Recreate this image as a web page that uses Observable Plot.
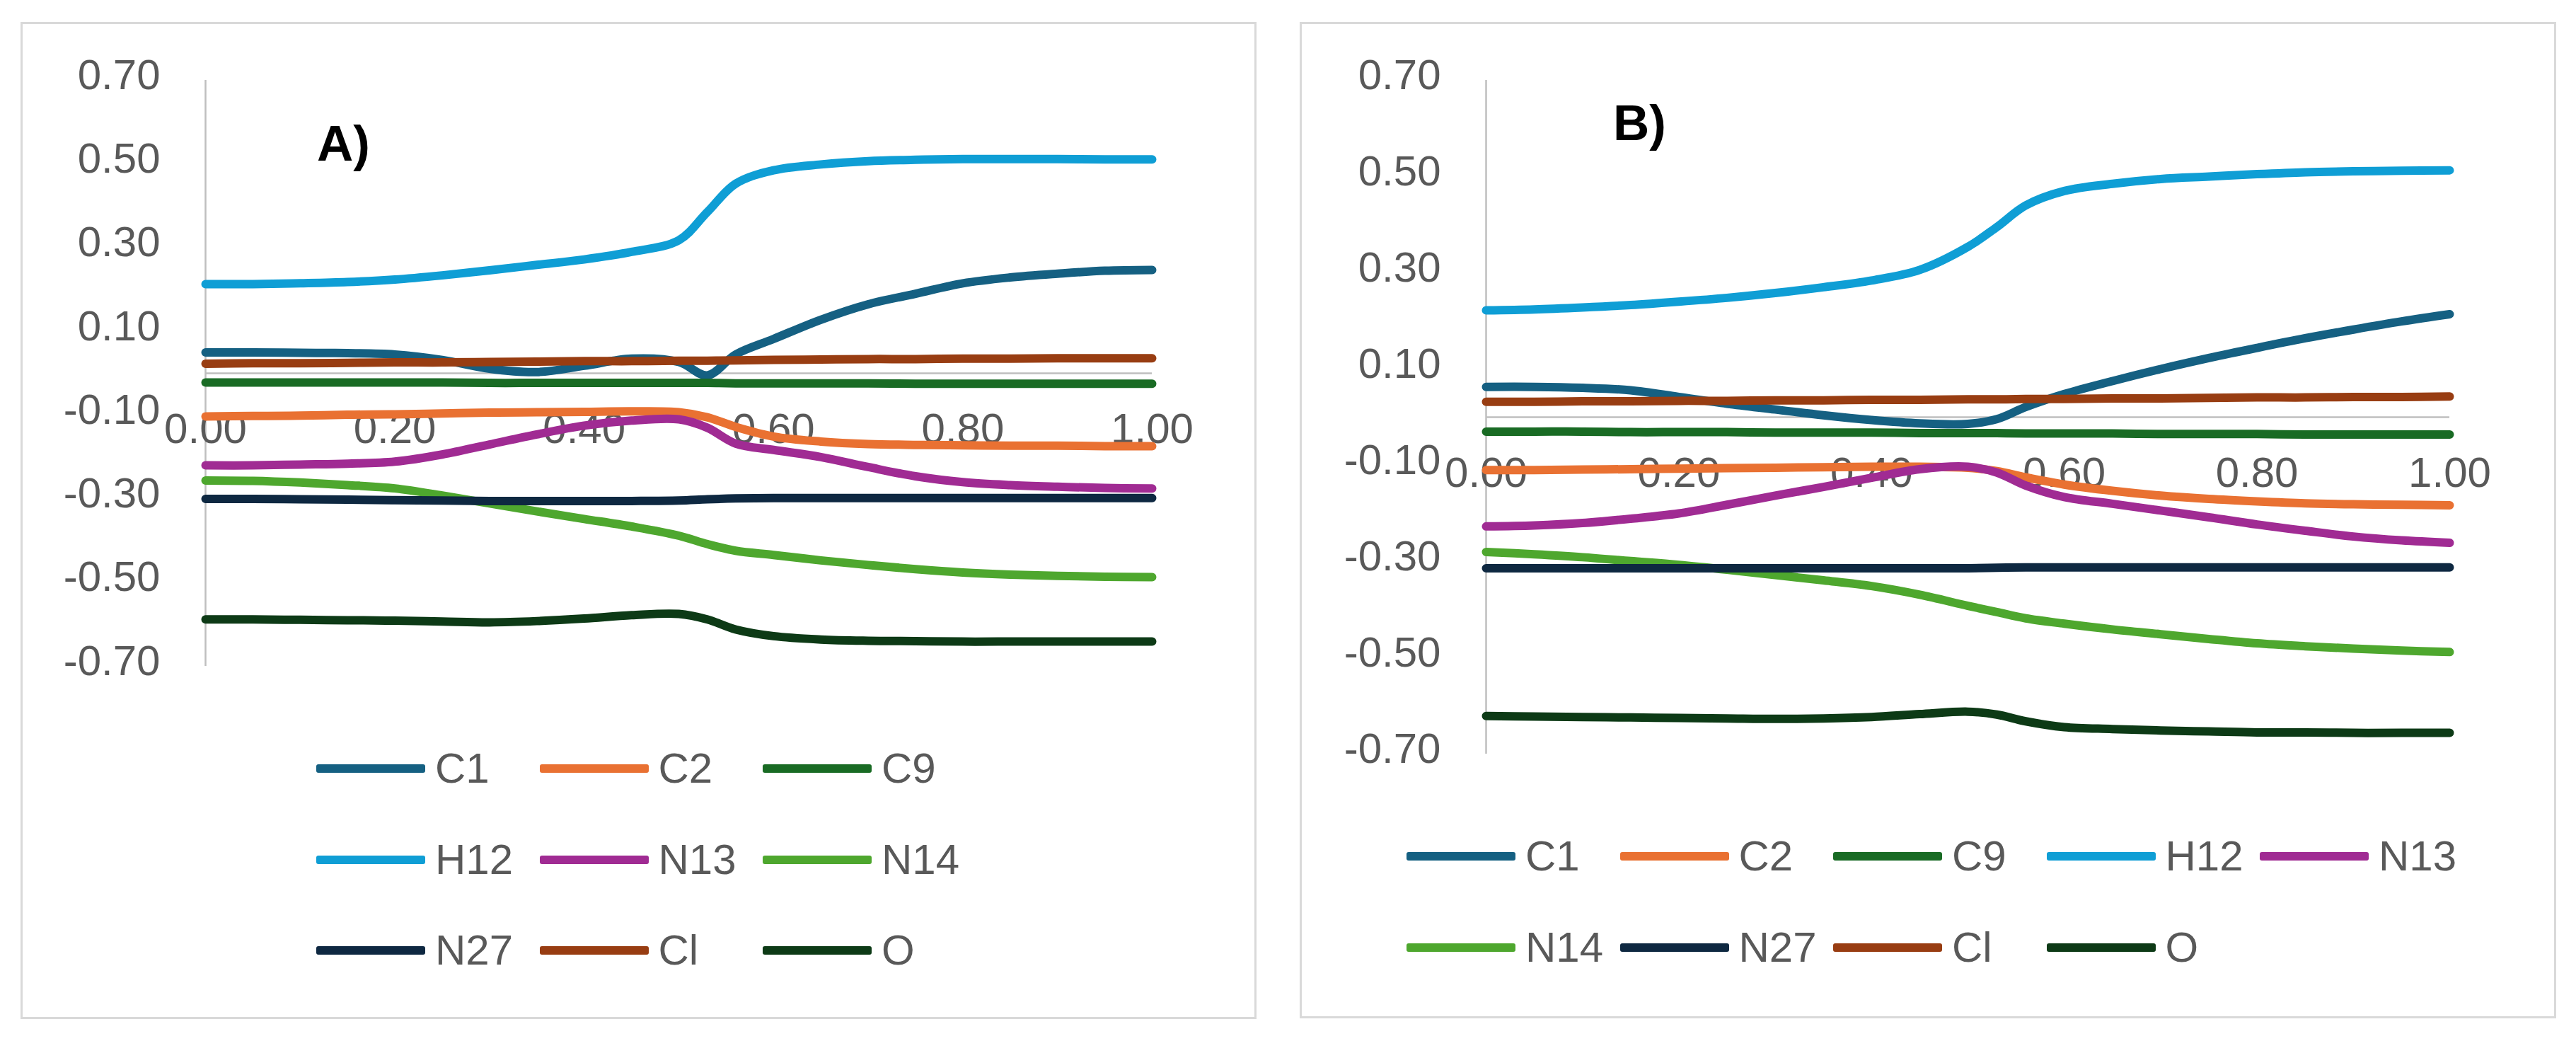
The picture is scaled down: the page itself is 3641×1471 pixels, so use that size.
<!DOCTYPE html>
<html>
<head>
<meta charset="utf-8">
<script src="https://cdn.jsdelivr.net/npm/d3@7"></script>
<script src="https://cdn.jsdelivr.net/npm/@observablehq/plot@0.6"></script>
<style>
  html, body { margin: 0; padding: 0; background: #fff; }
  body { width: 3641px; height: 1471px; position: relative; overflow: hidden; font-family: "Liberation Sans", Arial, sans-serif; }
  .panel { position: absolute; box-sizing: border-box; border: 3px solid #D9D9D9; background: #fff; }
  .panel svg { position: absolute; left: 0; top: 0; overflow: visible; }
  .tag { position: absolute; font-weight: bold; font-size: 71px; line-height: 1; color: #000; }
  .legend { position: absolute; display: grid; }
  .item { display: flex; align-items: center; height: 128.5px; font-size: 60px; color: #595959; line-height: 1; white-space: nowrap; }
  .sw { width: 154px; height: 12px; border-radius: 3px; margin-right: 14px; flex: none; }
</style>
</head>
<body>
<div id="pA" class="panel" style="left:29px; top:31px; width:1747px; height:1409px;"></div>
<div id="pB" class="panel" style="left:1837px; top:31px; width:1776px; height:1408px;"></div>
<script>
// ---- data ----
const seriesNames = ["C1", "C2", "C9", "H12", "N13", "N14", "N27", "Cl", "O"];
const seriesColors = ["#156082", "#E97132", "#196B24", "#0F9ED5", "#A02B93", "#4EA72E", "#0E2841", "#983D12", "#0D3A16"];
const xValues = [0, 0.05, 0.1, 0.15, 0.2, 0.25, 0.3, 0.35, 0.4, 0.45, 0.5, 0.53, 0.56, 0.6, 0.65, 0.7, 0.75, 0.8, 0.85, 0.9, 0.95, 1.0];
const xTicks = [0, 0.2, 0.4, 0.6, 0.8, 1.0];
const yTicks = [0.7, 0.5, 0.3, 0.1, -0.1, -0.3, -0.5, -0.7];

// Panel A
const A_C1  = [0.050, 0.050, 0.049, 0.048, 0.045, 0.032, 0.011, 0.003, 0.018, 0.035, 0.027, -0.005, 0.045, 0.082, 0.128, 0.165, 0.190, 0.215, 0.229, 0.238, 0.245, 0.247];
const A_C2  = [-0.103, -0.102, -0.101, -0.099, -0.098, -0.096, -0.094, -0.093, -0.092, -0.091, -0.093, -0.105, -0.128, -0.151, -0.163, -0.169, -0.171, -0.172, -0.173, -0.173, -0.174, -0.174];
const A_C9  = [-0.022, -0.022, -0.022, -0.022, -0.022, -0.022, -0.023, -0.023, -0.023, -0.023, -0.023, -0.023, -0.024, -0.024, -0.024, -0.024, -0.025, -0.025, -0.025, -0.025, -0.025, -0.025];
const A_H12 = [0.213, 0.213, 0.215, 0.218, 0.224, 0.234, 0.246, 0.259, 0.272, 0.290, 0.318, 0.385, 0.453, 0.485, 0.499, 0.507, 0.510, 0.512, 0.512, 0.512, 0.511, 0.511];
const A_N13 = [-0.220, -0.220, -0.218, -0.216, -0.211, -0.194, -0.170, -0.146, -0.125, -0.113, -0.110, -0.130, -0.168, -0.183, -0.200, -0.224, -0.246, -0.260, -0.267, -0.271, -0.274, -0.275];
const A_N14 = [-0.256, -0.257, -0.261, -0.267, -0.275, -0.292, -0.311, -0.330, -0.348, -0.366, -0.388, -0.408, -0.424, -0.434, -0.447, -0.458, -0.468, -0.476, -0.481, -0.484, -0.486, -0.487];
const A_N27 = [-0.300, -0.300, -0.301, -0.302, -0.303, -0.304, -0.305, -0.305, -0.305, -0.305, -0.304, -0.301, -0.299, -0.298, -0.298, -0.298, -0.298, -0.298, -0.298, -0.298, -0.298, -0.298];
const A_Cl  = [0.023, 0.024, 0.024, 0.025, 0.026, 0.026, 0.027, 0.028, 0.029, 0.029, 0.030, 0.030, 0.031, 0.032, 0.033, 0.034, 0.034, 0.035, 0.035, 0.036, 0.036, 0.036];
const A_O   = [-0.588, -0.588, -0.589, -0.590, -0.591, -0.593, -0.595, -0.592, -0.586, -0.578, -0.575, -0.588, -0.612, -0.628, -0.636, -0.639, -0.640, -0.641, -0.641, -0.641, -0.641, -0.641];

// Panel B
const B_C1  = [0.063, 0.063, 0.061, 0.056, 0.042, 0.028, 0.016, 0.004, -0.006, -0.013, -0.014, -0.004, 0.021, 0.048, 0.075, 0.100, 0.123, 0.144, 0.164, 0.182, 0.199, 0.214];
const B_C2  = [-0.110, -0.110, -0.109, -0.108, -0.107, -0.106, -0.105, -0.104, -0.103, -0.103, -0.105, -0.112, -0.125, -0.140, -0.153, -0.163, -0.170, -0.175, -0.179, -0.181, -0.182, -0.183];
const B_C9  = [-0.030, -0.030, -0.030, -0.031, -0.031, -0.031, -0.032, -0.032, -0.032, -0.033, -0.033, -0.033, -0.034, -0.034, -0.034, -0.035, -0.035, -0.035, -0.036, -0.036, -0.036, -0.036];
const B_H12 = [0.222, 0.224, 0.228, 0.233, 0.240, 0.248, 0.258, 0.270, 0.284, 0.306, 0.354, 0.395, 0.440, 0.470, 0.485, 0.495, 0.500, 0.505, 0.509, 0.511, 0.512, 0.513];
const B_N13 = [-0.227, -0.225, -0.220, -0.211, -0.200, -0.182, -0.163, -0.145, -0.126, -0.108, -0.103, -0.115, -0.142, -0.166, -0.180, -0.194, -0.208, -0.223, -0.236, -0.248, -0.256, -0.261];
const B_N14 = [-0.280, -0.285, -0.291, -0.299, -0.307, -0.317, -0.328, -0.339, -0.351, -0.369, -0.392, -0.405, -0.418, -0.429, -0.441, -0.451, -0.461, -0.470, -0.476, -0.481, -0.485, -0.488];
const B_N27 = [-0.314, -0.314, -0.314, -0.314, -0.314, -0.314, -0.314, -0.314, -0.314, -0.314, -0.314, -0.313, -0.312, -0.312, -0.312, -0.312, -0.312, -0.312, -0.312, -0.312, -0.312, -0.312];
const B_Cl  = [0.032, 0.032, 0.033, 0.033, 0.034, 0.034, 0.035, 0.035, 0.036, 0.036, 0.037, 0.037, 0.038, 0.038, 0.039, 0.039, 0.040, 0.041, 0.041, 0.042, 0.042, 0.043];
const B_O   = [-0.621, -0.622, -0.623, -0.624, -0.625, -0.626, -0.627, -0.626, -0.623, -0.617, -0.612, -0.618, -0.632, -0.644, -0.648, -0.651, -0.653, -0.655, -0.655, -0.656, -0.656, -0.656];

const panelA = [A_C1, A_C2, A_C9, A_H12, A_N13, A_N14, A_N27, A_Cl, A_O];
const panelB = [B_C1, B_C2, B_C9, B_H12, B_N13, B_N14, B_N27, B_Cl, B_O];

function tidy(series) {
  const rows = [];
  series.forEach((vals, i) => vals.forEach((v, j) => rows.push({series: seriesNames[i], x: xValues[j], y: v})));
  return rows;
}

function makePlot(series, cfg) {
  return Plot.plot({
    width: cfg.width, height: cfg.height,
    marginLeft: cfg.ml, marginRight: cfg.mr, marginTop: cfg.mt, marginBottom: cfg.mb,
    style: {fontFamily: '"Liberation Sans", Arial, sans-serif', fontSize: "60px", color: "#595959", background: "transparent", overflow: "visible"},
    x: {domain: [0, 1], axis: null},
    y: {domain: [-0.7, 0.7], label: null},
    color: {domain: seriesNames, range: seriesColors},
    marks: [
      Plot.ruleX([0], {stroke: "#BFBFBF", strokeWidth: 2.5}),
      Plot.ruleY([0], {stroke: "#BFBFBF", strokeWidth: 2.5}),
      Plot.axisY(yTicks, {tickSize: 0, tickPadding: 64, dy: -7, label: null, tickFormat: d => d.toFixed(2), fill: "#595959"}),
      Plot.text(xTicks, {x: d => d, y: d => 0, text: d => d.toFixed(2), dy: 79, fontSize: 60, fill: "#595959"}),
      Plot.line(tidy(series), {x: "x", y: "y", z: "series", stroke: "series", strokeWidth: 12, curve: "catmull-rom", strokeLinejoin: "round"})
    ]
  });
}

function makeLegend(cols, colWidth) {
  const lg = document.createElement("div");
  lg.className = "legend";
  lg.style.gridTemplateColumns = `repeat(${cols}, ${colWidth}px)`;
  seriesNames.forEach((n, i) => {
    const it = document.createElement("div");
    it.className = "item";
    const sw = document.createElement("div");
    sw.className = "sw";
    sw.style.background = seriesColors[i];
    it.appendChild(sw);
    it.appendChild(document.createTextNode(n));
    lg.appendChild(it);
  });
  return lg;
}

// Panel A
const pA = document.getElementById("pA");
pA.appendChild(makePlot(panelA, {width: 1741, height: 1000, ml: 258, mr: 145, mt: 79, mb: 93}));
const tagA = document.createElement("div");
tagA.className = "tag"; tagA.textContent = "A)";
tagA.style.left = "416px"; tagA.style.top = "133px";
pA.appendChild(tagA);
const lgA = makeLegend(3, 315.5);
lgA.style.left = "415px"; lgA.style.top = "988px";
pA.appendChild(lgA);

// Panel B
const pB = document.getElementById("pB");
pB.appendChild(makePlot(panelB, {width: 1770, height: 1100, ml: 260, mr: 148, mt: 79, mb: 69}));
const tagB = document.createElement("div");
tagB.className = "tag"; tagB.textContent = "B)";
tagB.style.left = "440px"; tagB.style.top = "104px";
pB.appendChild(tagB);
const lgB = makeLegend(5, 301.5);
lgB.style.left = "148px"; lgB.style.top = "1112px";
pB.appendChild(lgB);
</script>
</body>
</html>
